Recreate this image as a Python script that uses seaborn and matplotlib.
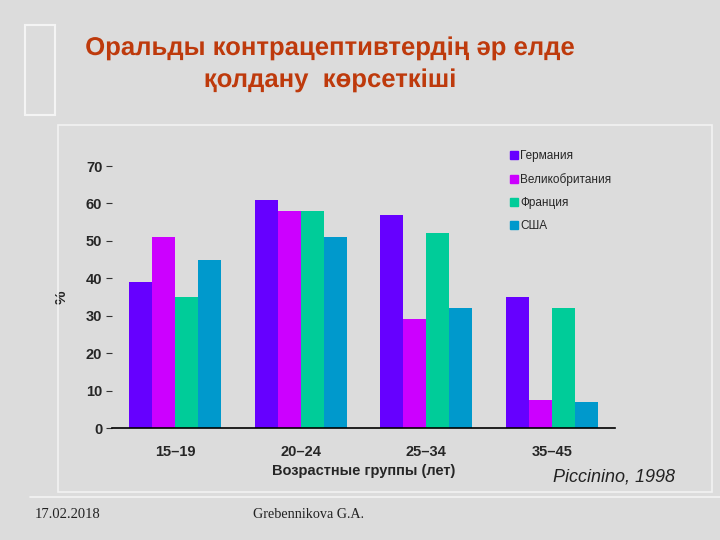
import matplotlib
matplotlib.use("Agg")
import matplotlib.pyplot as plt
import matplotlib.patheffects as pe
from matplotlib.lines import Line2D
from matplotlib.patches import Rectangle
import seaborn as sns
import pandas as pd

age_groups = ["15–19", "20–24", "25–34", "35–45"]
countries = ["Германия", "Великобритания", "Франция", "США"]
germany = [39, 61, 57, 35]
uk = [51, 58, 29, 7.5]
france = [35, 58, 52, 32]
usa = [45, 51, 32, 7]
colors = ["#6600FF", "#CC00FF", "#00CC99", "#0099CC"]

rows = []
for c, vals in zip(countries, [germany, uk, france, usa]):
    for g, v in zip(age_groups, vals):
        rows.append({"group": g, "country": c, "value": v})
df = pd.DataFrame(rows)

sns.set_theme(style="white")
plt.rcParams["font.family"] = ["Liberation Sans", "DejaVu Sans"]

bg = "#DCDCDC"
fig = plt.figure(figsize=(7.2, 5.4), dpi=100, facecolor=bg)
ax = fig.add_axes([112/720, 1-428/540, 503/720, 262/540])
ax.set_facecolor("none")

sns.barplot(data=df, x="group", y="value", hue="country", order=age_groups,
            hue_order=countries, palette=colors, width=0.73, gap=0,
            saturation=1, linewidth=0, ax=ax, legend=False)

ax.set_ylim(0, 70)
ax.set_xlim(-0.5, 3.5)
ax.set_yticks(range(0, 71, 10))
ax.set_yticklabels([str(v) for v in range(0, 71, 10)], fontsize=10.5, fontweight="bold")
ax.tick_params(axis="y", length=4, width=0.8, color="#333333", pad=3, left=True)
ax.tick_params(axis="x", length=0, pad=12)
for lbl in ax.get_xticklabels():
    lbl.set_fontsize(10.5)
    lbl.set_fontweight("bold")
for s in ["top", "right", "left"]:
    ax.spines[s].set_visible(False)
ax.spines["bottom"].set_color("black")
ax.spines["bottom"].set_linewidth(1.2)
ax.set_xlabel("Возрастные группы (лет)", fontsize=10.5, fontweight="bold", labelpad=4)
ax.set_ylabel("%", fontsize=11, fontweight="bold", labelpad=12)

handles = [Line2D([0], [0], marker="s", linestyle="none", markersize=6,
                  markerfacecolor=col, markeredgecolor=col) for col in colors]
fig.legend(handles, countries, loc="upper left", bbox_to_anchor=(505/720, 1-145/540),
           frameon=False, fontsize=8.5, labelspacing=0.95, handletextpad=0.1,
           handlelength=0.8, borderaxespad=0)

# slide decorations
fig.add_artist(Rectangle((58/720, 1-492/540), (712-58)/720, (492-125)/540,
                         transform=fig.transFigure, fill=False, edgecolor="#F2F2F2", lw=1.2))
fig.add_artist(Rectangle((25/720, 1-115/540), 30/720, 90/540,
                         transform=fig.transFigure, fill=False, edgecolor="#F4F4F4", lw=1.5))
fig.add_artist(Line2D([30/720, 1], [1-497/540, 1-497/540], transform=fig.transFigure,
                      color="#F4F4F4", lw=1.2))

title_fx = [pe.SimpleLineShadow(offset=(1.5, -1.5), shadow_color="#666666", alpha=0.5), pe.Normal()]
fig.text(330/720, 1-48/540, "Оральды контрацептивтердің әр елде", ha="center", va="center",
         fontsize=18.5, fontweight="bold", color="#BE3A0C", path_effects=title_fx)
fig.text(330/720, 1-80/540, "қолдану  көрсеткіші", ha="center", va="center",
         fontsize=18.5, fontweight="bold", color="#BE3A0C", path_effects=title_fx)

fig.text(675/720, 1-477/540, "Piccinino, 1998", ha="right", va="center",
         fontsize=13, style="italic", color="#222222")
fig.text(35/720, 1-515/540, "17.02.2018", ha="left", va="center",
         fontsize=10.5, family=["Liberation Serif"], color="#222222")
fig.text(253/720, 1-515/540, "Grebennikova G.A.", ha="left", va="center",
         fontsize=10.2, family=["Liberation Serif"], color="#222222")

fig.savefig("out.png", dpi=100, facecolor=bg)
